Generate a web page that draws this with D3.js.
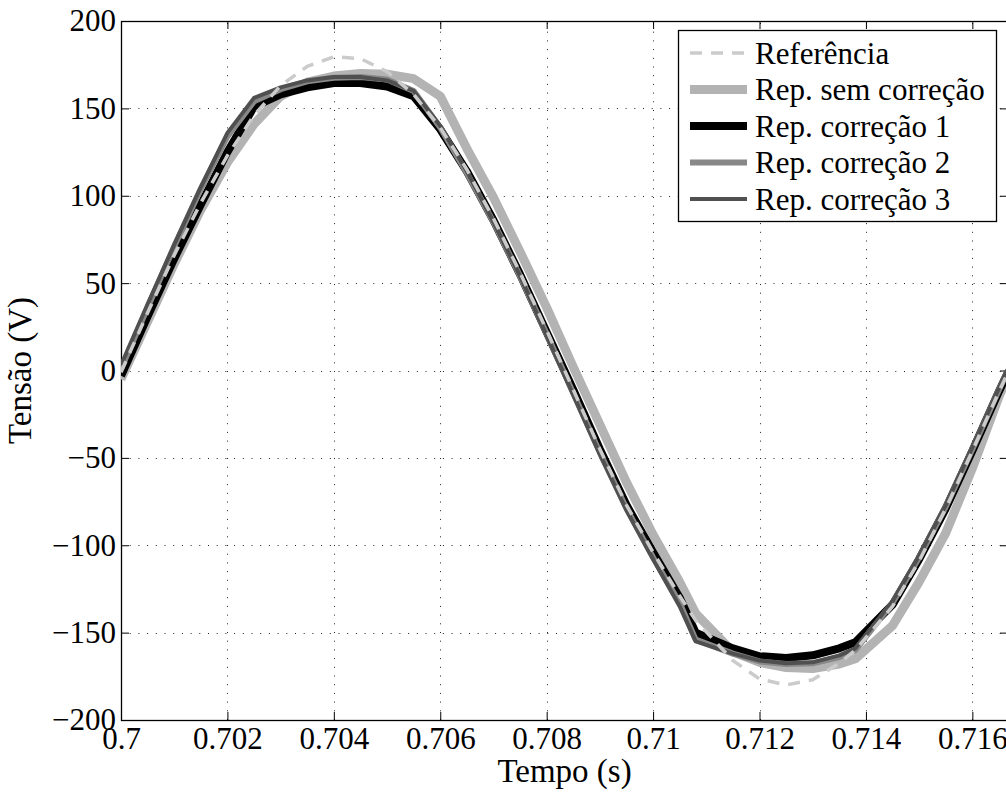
<!DOCTYPE html>
<html>
<head>
<meta charset="utf-8">
<script src="https://cdn.jsdelivr.net/npm/d3@7"></script>
<style>
  body { margin: 0; background: #fff; }
  svg { display: block; }
  svg text { font-family: "Liberation Serif", "Times New Roman", Times, serif; }
</style>
</head>
<body>
<div id="chart"></div>
<script>
// sample times (s)
const time = [0.7, 0.7005, 0.701, 0.7015, 0.702, 0.7025, 0.703, 0.7035, 0.704, 0.7045,
  0.705, 0.7055, 0.706, 0.7065, 0.707, 0.7075, 0.708, 0.7085, 0.709, 0.7095,
  0.71, 0.7105, 0.7108, 0.7115, 0.712, 0.7125, 0.713, 0.7135, 0.7138, 0.7145,
  0.715, 0.7155, 0.716, 0.7165, 0.71667]

// tensões (V)
const referencia = [-1, 33, 66, 96, 123, 146, 163, 174, 179.5, 178.5,
  171, 158, 139, 115, 87, 56, 23, -11, -45, -77,
  -104, -129, -143, -166, -176.5, -180, -177, -167.5, -160, -135,
  -109, -79, -46, -12, -1]
const semCorrecao = [-5, 28, 61, 92, 119, 141, 157, 165, 168.5, 170,
  169.5, 167, 157, 127, 99, 68, 36, 2, -31, -64,
  -94, -121, -139, -161, -167, -170, -170.5, -168, -165, -146,
  -121, -93, -56, -15, -3]
const correcao1 = [-3, 31, 64, 95, 125, 151, 158, 162, 164.5, 164.5,
  162.5, 157, 138, 114, 86, 55, 22, -11, -45, -77,
  -104, -130, -150, -159, -163.5, -164.5, -163, -159, -155.5, -134,
  -108, -79, -46, -12, -1]
const correcao2 = [1, 36, 71, 104, 134, 154, 161, 165.5, 167.5, 168,
  166.5, 160, 139, 113, 85, 54, 21, -13, -47, -79,
  -107, -133, -154, -162, -166.5, -168, -167.5, -164, -160, -133,
  -107, -78, -45, -11, 0]
const correcao3 = [3, 38, 72, 105, 136, 156, 162, 166, 168, 168,
  166, 160, 140, 114, 85, 54, 20, -14, -48, -80,
  -108, -135, -155, -162, -166, -167.5, -167, -163, -159, -132,
  -106, -77, -44, -10, 1]

const seriesNames = ['Referência', 'Rep. sem correção', 'Rep. correção 1', 'Rep. correção 2', 'Rep. correção 3']

const xTicks = [0.7, 0.702, 0.704, 0.706, 0.708, 0.71, 0.712, 0.714, 0.716]
const xTickLabels = ['0.7', '0.702', '0.704', '0.706', '0.708', '0.71', '0.712', '0.714', '0.716']
const yTicks = [-200, -150, -100, -50, 0, 50, 100, 150, 200]
const yTickLabels = ['\u2212200', '\u2212150', '\u2212100', '\u221250', '0', '50', '100', '150', '200']

const width = 1006, height = 792
const font = '"Liberation Serif", "Times New Roman", Times, serif'
const tickLen = 8

const x = d3.scaleLinear().domain([0.7, 0.71667]).range([121, 1008])
const y = d3.scaleLinear().domain([-200, 200]).range([720, 21])

const svg = d3.select('#chart').append('svg')
  .attr('width', width)
  .attr('height', height)
  .attr('viewBox', `0 0 ${width} ${height}`)
  .attr('font-family', font)

svg.append('rect').attr('width', width).attr('height', height).attr('fill', '#fff')

svg.append('clipPath').attr('id', 'plotClip')
  .append('rect')
  .attr('x', x.range()[0]).attr('y', y.range()[1])
  .attr('width', x.range()[1] - x.range()[0])
  .attr('height', y.range()[0] - y.range()[1])

// dotted grid
const grid = svg.append('g').attr('stroke', '#222').attr('stroke-width', 1)
  .attr('stroke-dasharray', '1,7.7')
grid.selectAll('.vgrid')
  .data(xTicks.filter(d => d > 0.7))
  .join('line')
    .attr('x1', d => Math.round(x(d)) + 0.5).attr('x2', d => Math.round(x(d)) + 0.5)
    .attr('y1', y(-200)).attr('y2', y(200))
grid.selectAll('.hgrid')
  .data(yTicks.filter(d => d > -200 && d < 200))
  .join('line')
    .attr('y1', d => Math.round(y(d)) + 0.5).attr('y2', d => Math.round(y(d)) + 0.5)
    .attr('x1', x.range()[0]).attr('x2', x.range()[1])

// axes
const styleAxis = g => {
  g.attr('font-family', font).attr('font-size', 31)
  g.select('.domain').remove()
  g.selectAll('.tick line').attr('stroke', '#000')
  g.selectAll('.tick text').attr('fill', '#000')
}

svg.append('g')
  .attr('transform', `translate(0,${y(-200)})`)
  .call(d3.axisBottom(x).tickValues(xTicks).tickFormat((d, i) => xTickLabels[i])
    .tickSizeInner(-tickLen).tickSizeOuter(0).tickPadding(7))
  .call(styleAxis)

svg.append('g')
  .attr('transform', `translate(0,${y(200)})`)
  .call(d3.axisTop(x).tickValues(xTicks).tickFormat('')
    .tickSizeInner(-tickLen).tickSizeOuter(0))
  .call(styleAxis)

svg.append('g')
  .attr('transform', `translate(${x.range()[0]},0)`)
  .call(d3.axisLeft(y).tickValues(yTicks).tickFormat((d, i) => yTickLabels[i])
    .tickSizeInner(-tickLen).tickSizeOuter(0).tickPadding(5))
  .call(styleAxis)

svg.append('g')
  .attr('transform', `translate(${x.range()[1]},0)`)
  .call(d3.axisRight(y).tickValues(yTicks).tickFormat('')
    .tickSizeInner(-tickLen).tickSizeOuter(0))
  .call(styleAxis)

svg.append('rect')
  .attr('x', x.range()[0] + 0.5).attr('y', y.range()[1] + 0.5)
  .attr('width', x.range()[1] - x.range()[0] - 1)
  .attr('height', y.range()[0] - y.range()[1])
  .attr('fill', 'none').attr('stroke', '#000').attr('stroke-width', 1.3)

// curves
const styles = [
  { color: '#cbcbcb', width: 3.5, dash: '12,9' },
  { color: '#b3b3b3', width: 9, dash: null },
  { color: '#000000', width: 8, dash: null },
  { color: '#888888', width: 6, dash: null },
  { color: '#505050', width: 4, dash: null }
]
const series = [referencia, semCorrecao, correcao1, correcao2, correcao3]
const drawOrder = [1, 2, 3, 4, 0]

const line = d3.line()
  .x((d, i) => x(time[i]))
  .y(d => y(d))

svg.append('g').attr('clip-path', 'url(#plotClip)')
  .selectAll('path')
  .data(drawOrder)
  .join('path')
    .attr('d', k => line(series[k]))
    .attr('fill', 'none')
    .attr('stroke', k => styles[k].color)
    .attr('stroke-width', k => styles[k].width)
    .attr('stroke-dasharray', k => styles[k].dash)
    .attr('stroke-linejoin', 'round')

// legend
const legend = svg.append('g').attr('font-size', 31)
legend.append('rect')
  .attr('x', 678.5).attr('y', 30.5).attr('width', 318).attr('height', 191)
  .attr('fill', '#fff').attr('stroke', '#000').attr('stroke-width', 1.3)

const rowY = i => 53 + i * 36.5
const entries = legend.selectAll('.entry')
  .data(seriesNames)
  .join('g')
entries.append('line')
  .attr('x1', 690).attr('x2', 747)
  .attr('y1', (d, i) => rowY(i)).attr('y2', (d, i) => rowY(i))
  .attr('stroke', (d, i) => styles[i].color)
  .attr('stroke-width', (d, i) => styles[i].width)
  .attr('stroke-dasharray', (d, i) => styles[i].dash)
entries.append('text')
  .attr('x', 755).attr('y', (d, i) => rowY(i))
  .attr('dy', '0.35em')
  .text(d => d)

// axis titles
svg.append('text')
  .attr('x', (x.range()[0] + x.range()[1]) / 2).attr('y', 782)
  .attr('text-anchor', 'middle')
  .attr('font-size', 33)
  .text('Tempo (s)')

svg.append('text')
  .attr('transform', `translate(31,${(y.range()[0] + y.range()[1]) / 2}) rotate(-90)`)
  .attr('text-anchor', 'middle')
  .attr('font-size', 33)
  .text('Tensão (V)')
</script>
</body>
</html>
